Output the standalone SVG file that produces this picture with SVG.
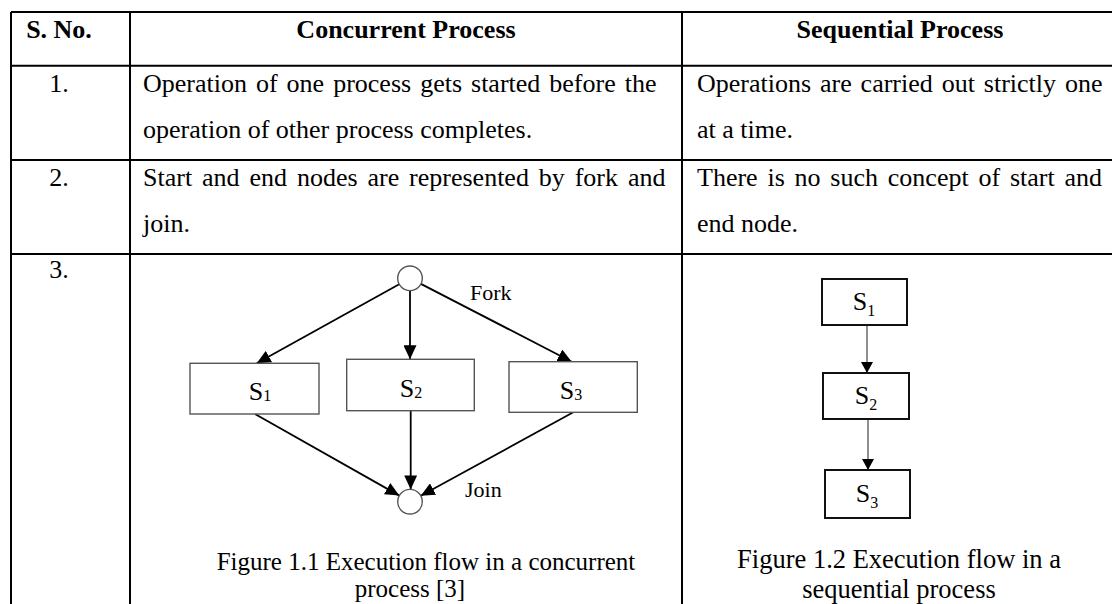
<svg xmlns="http://www.w3.org/2000/svg" width="1112" height="604" viewBox="0 0 1112 604">
<style>
.t{font-family:"Liberation Serif","Times New Roman",serif;font-size:26px;fill:#000}
.h{font-family:"Liberation Serif","Times New Roman",serif;font-size:26px;font-weight:bold;fill:#000}
.grid{stroke:#000;stroke-width:2;fill:none}
.cbox{fill:#fff;stroke:#555;stroke-width:1.4}
.sbox{fill:#fff;stroke:#111;stroke-width:2}
.circ{fill:#fff;stroke:#555;stroke-width:1.4}
.lbl{font-family:"Liberation Serif","Times New Roman",serif;font-size:22px;fill:#000}
.sl{font-family:"Liberation Serif","Times New Roman",serif;font-size:26px;fill:#000}
.sub{font-size:16px}
.carr{stroke:#000;stroke-width:1.8;fill:none}
.sarr{stroke:#333;stroke-width:1.1;fill:none}
.cap1{font-family:"Liberation Serif","Times New Roman",serif;font-size:25px;fill:#000}
.cap2{font-family:"Liberation Serif","Times New Roman",serif;font-size:26.5px;fill:#000}
</style>
<defs>
<marker id="ah" markerUnits="userSpaceOnUse" viewBox="0 0 14 13" markerWidth="14" markerHeight="13" refX="14" refY="6.5" orient="auto"><path d="M0,0 L14,6.5 L0,13 z" fill="#000"/></marker>
<marker id="ahs" markerUnits="userSpaceOnUse" viewBox="0 0 11 12" markerWidth="11" markerHeight="12" refX="11" refY="6" orient="auto"><path d="M0,0 L11,6 L0,12 z" fill="#000"/></marker>
</defs>
<rect width="1112" height="604" fill="#fff"/>
<g id="table">
<path class="grid" d="M11,12 H1120 M11,65.7 H1120 M11,160 H1120 M11,254 H1120 M11,12 V610 M130,12 V610 M682,12 V610"/>
</g>
<g id="header">
<text class="h" x="59" y="38" text-anchor="middle">S. No.</text>
<text class="h" x="406" y="38" text-anchor="middle">Concurrent Process</text>
<text class="h" x="900" y="38" text-anchor="middle">Sequential Process</text>
</g>
<g id="row1">
<text class="t" x="59" y="92" text-anchor="middle">1.</text>
<text class="t" x="143" y="92" word-spacing="2.5">Operation of one process gets started before the</text>
<text class="t" x="143" y="137.7">operation of other process completes.</text>
<text class="t" x="697" y="92" word-spacing="2.4">Operations are carried out strictly one</text>
<text class="t" x="697" y="137.7">at a time.</text>
</g>
<g id="row2">
<text class="t" x="59" y="186" text-anchor="middle">2.</text>
<text class="t" x="143" y="186" word-spacing="3.4">Start and end nodes are represented by fork and</text>
<text class="t" x="143" y="231.7">join.</text>
<text class="t" x="697" y="186" word-spacing="3.3">There is no such concept of start and</text>
<text class="t" x="697" y="231.7">end node.</text>
</g>
<g id="row3">
<text class="t" x="59" y="278" text-anchor="middle">3.</text>
</g>
<g id="connectors">
<line class="carr" x1="399.2" y1="284.3" x2="256.7" y2="363.3" marker-end="url(#ah)"/>
<line class="carr" x1="410" y1="290.6" x2="410" y2="359.3" marker-end="url(#ah)"/>
<line class="carr" x1="420.9" y1="283.9" x2="571.7" y2="361.7" marker-end="url(#ah)"/>
<line class="carr" x1="255" y1="414" x2="399.3" y2="495.6" marker-end="url(#ah)"/>
<line class="carr" x1="410.7" y1="410.7" x2="410.7" y2="489.4" marker-end="url(#ah)"/>
<line class="carr" x1="573.3" y1="412.3" x2="420.8" y2="495.8" marker-end="url(#ah)"/>
<line class="sarr" x1="867" y1="326" x2="867" y2="373" marker-end="url(#ahs)"/>
<line class="sarr" x1="868" y1="420" x2="868" y2="470" marker-end="url(#ahs)"/>
</g>
<g id="fork">
<circle class="circ" cx="410" cy="278.3" r="12.3"/>
<text class="lbl" x="470" y="300">Fork</text>
</g>
<g id="join">
<circle class="circ" cx="410" cy="501.7" r="12.3"/>
<text class="lbl" x="465" y="497">Join</text>
</g>
<g id="c-s1">
<rect class="cbox" x="190" y="363.3" width="129" height="50.7"/>
<text class="sl" x="260" y="400" text-anchor="middle">S<tspan class="sub" dy="1">1</tspan></text>
</g>
<g id="c-s2">
<rect class="cbox" x="346.7" y="359.3" width="127.6" height="51.4"/>
<text class="sl" x="411" y="397" text-anchor="middle">S<tspan class="sub" dy="1">2</tspan></text>
</g>
<g id="c-s3">
<rect class="cbox" x="509" y="361.7" width="128.3" height="50.6"/>
<text class="sl" x="571" y="399" text-anchor="middle">S<tspan class="sub" dy="1">3</tspan></text>
</g>
<g id="caption1">
<text class="cap1" x="426" y="570" text-anchor="middle">Figure 1.1 Execution flow in a concurrent</text>
<text class="cap1" x="410" y="596.7" text-anchor="middle">process [3]</text>
</g>
<g id="s-s1">
<rect class="sbox" x="822" y="279" width="85" height="46"/>
<text class="sl" x="864" y="310" text-anchor="middle">S<tspan class="sub" dy="6">1</tspan></text>
</g>
<g id="s-s2">
<rect class="sbox" x="823" y="373" width="86" height="46"/>
<text class="sl" x="866" y="404" text-anchor="middle">S<tspan class="sub" dy="6">2</tspan></text>
</g>
<g id="s-s3">
<rect class="sbox" x="825" y="470" width="85" height="48"/>
<text class="sl" x="867" y="502" text-anchor="middle">S<tspan class="sub" dy="6">3</tspan></text>
</g>
<g id="caption2">
<text class="cap2" x="899" y="568" text-anchor="middle">Figure 1.2 Execution flow in a</text>
<text class="cap2" x="899" y="598" text-anchor="middle">sequential process</text>
</g>
</svg>
